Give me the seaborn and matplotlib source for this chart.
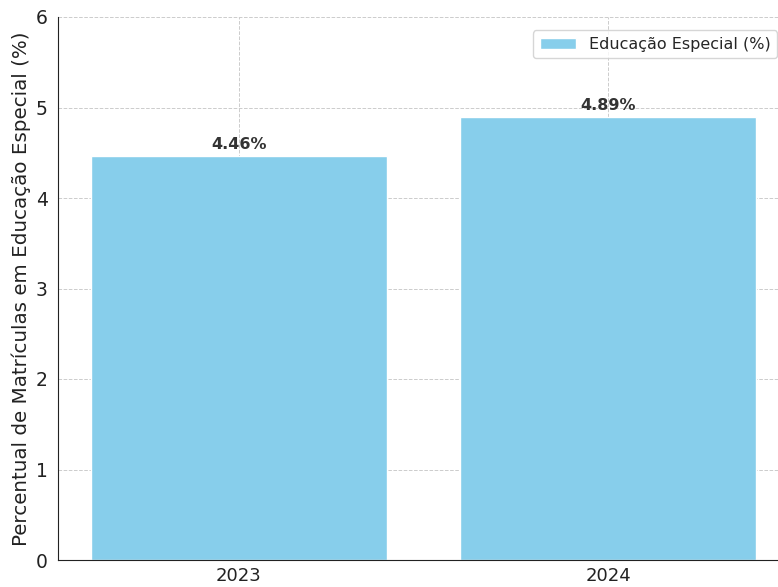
import matplotlib
matplotlib.use("Agg")
import matplotlib.pyplot as plt
import seaborn as sns
import pandas as pd

anos = ["2023", "2024"]
percentuais = [4.46, 4.89]
serie = "Educação Especial (%)"

df = pd.DataFrame({"Ano": anos, "Percentual": percentuais})

sns.set_style("white")
plt.rcParams['font.family'] = ['DejaVu Sans']

fig = plt.figure(figsize=(7.78, 5.87), dpi=100)
ax = fig.add_axes([58/778, 27/587, 1 - 58/778, (560-17)/587])

sns.barplot(data=df, x="Ano", y="Percentual", color="#87CEEB", width=0.8,
            saturation=1, label=serie, ax=ax, zorder=2)

for i, v in enumerate(percentuais):
    ax.text(i, v + 0.05, f"{v:.2f}%", ha="center", va="bottom",
            fontsize=11.5, fontweight="bold", color="#333333")

ax.set_ylim(0, 6)
ax.set_xlim(-0.49, 1.46)
ax.set_xlabel("")
ax.set_ylabel("Percentual de Matrículas em Educação Especial (%)", fontsize=14.3,
              color="#222222", labelpad=3)
ax.tick_params(axis="both", labelsize=13.5, colors="#222222", length=4)
ax.tick_params(axis="x", labelsize=13, pad=1)
ax.grid(True, linestyle="--", color="#cccccc", linewidth=0.7, zorder=0)
ax.set_axisbelow(True)
for s in ["top", "right"]:
    ax.spines[s].set_visible(False)
ax.spines["left"].set_color("#222222")
ax.spines["bottom"].set_color("#222222")
ax.legend(loc="upper right", fontsize=11.5, frameon=True, handlelength=2.3,
          bbox_to_anchor=(1.01, 0.99))

fig.savefig("out.png", dpi=100)
